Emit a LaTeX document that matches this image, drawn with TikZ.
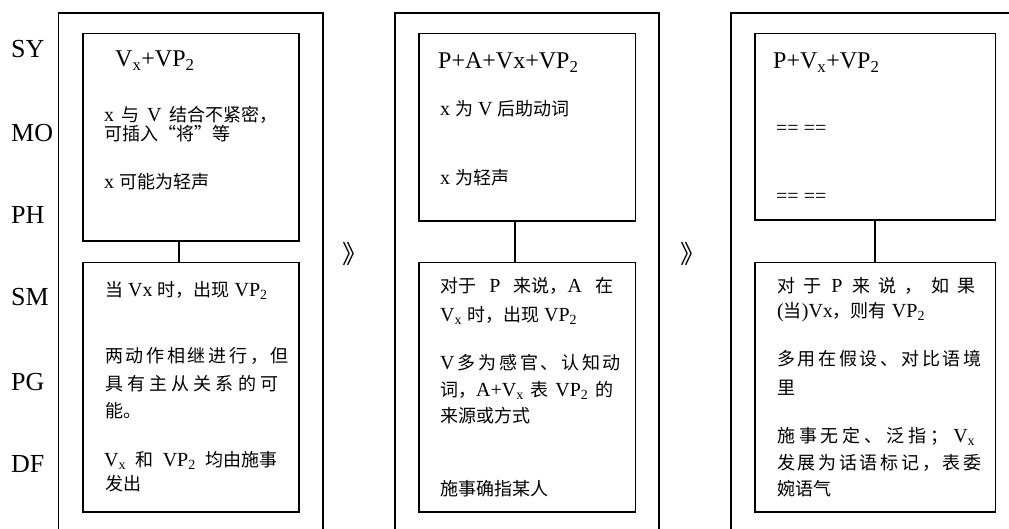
\documentclass[tikz,border=0pt]{standalone}
\usepackage{fontspec}
\setmainfont{Liberation Serif}
\newfontfamily\cjk[Scale=0.9]{Noto Sans CJK SC}
\newcommand\zh[1]{{\cjk #1}}
\newcommand\jline[2]{\makebox[#1][s]{#2}}
\begin{document}
\begin{tikzpicture}[x=1pt,y=-1pt,
  frame/.style={draw, line width=1.6pt, anchor=north west, inner sep=0, outer sep=0, minimum width=264.2pt, minimum height=540pt},
  box/.style={draw, line width=1.6pt, anchor=north west, inner sep=0, outer sep=0, minimum width=216.3pt},
  lbl/.style={anchor=base west, inner sep=0, font=\fontsize{26}{30}\selectfont},
  ttl/.style={anchor=base west, inner sep=0, font=\fontsize{24}{28}\selectfont},
  txt/.style={anchor=base west, inner sep=0, font=\fontsize{20}{24}\selectfont},
  arr/.style={inner sep=0, font=\cjk\fontsize{28}{30}\selectfont},
  conn/.style={line width=1.6pt}]
\useasboundingbox (0,0) rectangle (1009,528);
% outer frames
\node[frame] (fr1) at (58.5,12.7) {};
\node[frame] (fr2) at (395,12.7) {};
\node[frame, minimum width=320pt] (fr3) at (731,12.7) {};
% inner boxes
\node[box, minimum height=207.4pt] (top1) at (82.7,33.3) {};
\node[box, minimum height=249.4pt] (bot1) at (82.7,262.3) {};
\node[box, minimum height=187.4pt] (top2) at (419,33.3) {};
\node[box, minimum height=249.4pt] (bot2) at (419,262.3) {};
\node[box, minimum width=240.5pt, minimum height=186.7pt] (top3) at (755,33.3) {};
\node[box, minimum width=240.5pt, minimum height=249.4pt] (bot3) at (755,262.3) {};
% connectors
\draw[conn] ([xshift=-11.85pt]top1.south) -- ([xshift=-11.85pt]bot1.north);
\draw[conn] ([xshift=-12.15pt]top2.south) -- ([xshift=-12.15pt]bot2.north);
\draw[conn] ([xshift=-0.25pt]top3.south) -- ([xshift=-0.25pt]bot3.north);
% row labels
\node[lbl] (sy) at (11,57.3) {SY};
\node[lbl] (mo) at (11,141.7) {MO};
\node[lbl] (ph) at (11,223) {PH};
\node[lbl] (sm) at (11,305) {SM};
\node[lbl] (pg) at (11,390) {PG};
\node[lbl] (df) at (11,472.7) {DF};
% transitions
\node[arr] (ar1) at (355,254) {》};
\node[arr] (ar2) at (693,254) {》};
% box 1
\node[ttl] (a0) at (115,66.7) {V\textsubscript{x}+VP\textsubscript{2}};
\node[txt] (a1) at (104,121.5) {\jline{173pt}{x \zh{与} V \zh{结合不紧密，}}};
\node[txt] (a2) at (104,140) {\zh{可插入“将”等}};
\node[txt] (a3) at (104,188.5) {x \zh{可能为轻声}};
\node[txt] (b1) at (105,296.7) {\zh{当} Vx \zh{时，出现} VP\textsubscript{2}};
\node[txt] (b2) at (105,362.5) {\zh{\jline{173pt}{两 动 作 相 继 进 行 ， 但}}};
\node[txt] (b3) at (105,390.5) {\zh{\jline{173pt}{具 有 主 从 关 系 的 可}}};
\node[txt] (b4) at (105,417.5) {\zh{能。}};
\node[txt] (b5) at (104,466.7) {\jline{173pt}{V\textsubscript{x} \zh{和} VP\textsubscript{2} \zh{均由施事}}};
\node[txt] (b6) at (105,490.5) {\zh{发出}};
% box 2
\node[ttl] (c0) at (438,68.3) {P+A+Vx+VP\textsubscript{2}};
\node[txt] (c1) at (440,115) {x \zh{为} V \zh{后助动词}};
\node[txt] (c2) at (440,184) {x \zh{为轻声}};
\node[txt] (d1) at (440,292) {\jline{173pt}{\zh{对于} P \zh{来说，}A \zh{在}}};
\node[txt] (d2) at (440,321.7) {V\textsubscript{x} \zh{时，出现} VP\textsubscript{2}};
\node[txt] (d3) at (440,369) {\jline{173pt}{V \zh{多 为 感 官 、 认 知 动}}};
\node[txt] (d4) at (440,396.7) {\jline{173pt}{\zh{词，}A+V\textsubscript{x} \zh{表} VP\textsubscript{2} \zh{的}}};
\node[txt] (d5) at (440,422) {\zh{来源或方式}};
\node[txt] (d6) at (440,495.5) {\zh{施事确指某人}};
% box 3
\node[ttl] (e0) at (773,68.3) {P+V\textsubscript{x}+VP\textsubscript{2}};
\node[txt] (e1) at (776,134.5) {== ==};
\node[txt] (e2) at (776,202) {== ==};
\node[txt] (f1) at (777,292) {\jline{198pt}{\zh{对 于} P \zh{来 说 ， 如 果}}};
\node[txt] (f2) at (777,317.5) {(\zh{当})Vx\zh{，则有} VP\textsubscript{2}};
\node[txt] (f3) at (777,365.5) {\zh{\jline{198pt}{多 用 在 假 设 、 对 比 语 境}}};
\node[txt] (f4) at (777,394) {\zh{里}};
\node[txt] (f5) at (777,442) {\jline{198pt}{\zh{施 事 无 定 、 泛 指 ；} V\textsubscript{x}}};
\node[txt] (f6) at (777,469) {\zh{\jline{198pt}{发 展 为 话 语 标 记 ， 表 委}}};
\node[txt] (f7) at (777,495.5) {\zh{婉语气}};
\end{tikzpicture}
\end{document}
